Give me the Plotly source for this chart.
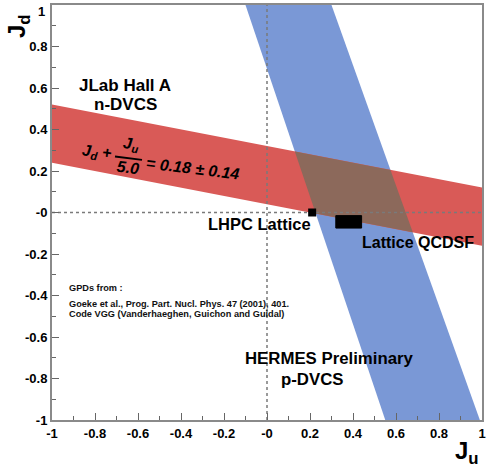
import numpy as np
import plotly.graph_objects as go

# Jefferson Lab Hall A n-DVCS constraint:  Jd + Ju/5.0 = 0.18 +- 0.14
jlab_center = 0.18
jlab_error = 0.14
jlab_divisor = 5.0

# HERMES preliminary p-DVCS band, edge positions in Ju at Jd = +1 and Jd = -1
hermes_jd = [1.0, -1.0]
hermes_left_ju = [-0.10, 0.55]
hermes_right_ju = [0.30, 0.99]

# Lattice results
lhpc_ju, lhpc_jd = 0.21, 0.0
qcdsf_ju = [0.32, 0.44]
qcdsf_jd = [-0.075, -0.015]

x_ticks = [-1, -0.8, -0.6, -0.4, -0.2, 0, 0.2, 0.4, 0.6, 0.8, 1]
x_tick_text = ["-1", "-0.8", "-0.6", "-0.4", "-0.2", "-0", "0.2", "0.4", "0.6", "0.8", "1"]
y_ticks = x_ticks
# the top label is drawn separately, nudged down inside the page
y_tick_text = ["-1", "-0.8", "-0.6", "-0.4", "-0.2", "-0", "0.2", "0.4", "0.6", "0.8", ""]
y_top_label = "1"

RED = "#d95a57"
BLUE = "#7a98d6"
BROWN = "#8c695b"
FONT = "Liberation Sans, Arial, sans-serif"

W, H = 489, 469
L, R, T, B = 52, 7, 5, 49


def px2x(px):
    return -1 + 2 * (px - L) / (W - L - R)


def py2y(py):
    return 1 - 2 * (py - T) / (H - T - B)


def jlab_line(ju, offset):
    return jlab_center + offset - np.asarray(ju) / jlab_divisor


def hermes_line(edge):
    # Ju = a + b * Jd for one band edge
    b = (edge[0] - edge[1]) / (hermes_jd[0] - hermes_jd[1])
    a = edge[0] - b * hermes_jd[0]
    return a, b


def intersect(offset, edge):
    a, b = hermes_line(edge)
    c = jlab_center + offset
    # Jd = c - Ju/k  and  Ju = a + b*Jd
    k = jlab_divisor
    jd = (c - a / k) / (1 + b / k)
    ju = a + b * jd
    return ju, jd


fig = go.Figure()

# HERMES band
bx = [hermes_left_ju[0], hermes_right_ju[0], hermes_right_ju[1], hermes_left_ju[1], hermes_left_ju[0]]
by = [hermes_jd[0], hermes_jd[0], hermes_jd[1], hermes_jd[1], hermes_jd[0]]
fig.add_trace(go.Scatter(x=bx, y=by, fill="toself", fillcolor=BLUE, mode="none",
                         hoverinfo="skip", showlegend=False))

# JLab band
ju_edges = np.array([-1.0, 1.0])
rx = list(ju_edges) + list(ju_edges[::-1]) + [ju_edges[0]]
ry = (list(jlab_line(ju_edges, jlab_error)) + list(jlab_line(ju_edges[::-1], -jlab_error))
      + [jlab_line(ju_edges[0], jlab_error)])
fig.add_trace(go.Scatter(x=rx, y=ry, fill="toself", fillcolor=RED, mode="none",
                         hoverinfo="skip", showlegend=False))

# overlap of the two bands
corners = [intersect(jlab_error, hermes_left_ju), intersect(jlab_error, hermes_right_ju),
           intersect(-jlab_error, hermes_right_ju), intersect(-jlab_error, hermes_left_ju)]
corners.append(corners[0])
fig.add_trace(go.Scatter(x=[c[0] for c in corners], y=[c[1] for c in corners],
                         fill="toself", fillcolor=BROWN, mode="none",
                         hoverinfo="skip", showlegend=False))

# dotted zero lines
fig.add_trace(go.Scatter(x=[0, 0], y=[-1, 1], mode="lines",
                         line=dict(color="#7a7a7a", width=1.5, dash="dot"),
                         hoverinfo="skip", showlegend=False))
fig.add_trace(go.Scatter(x=[-1, 1], y=[0, 0], mode="lines",
                         line=dict(color="#7a7a7a", width=1.5, dash="dot"),
                         hoverinfo="skip", showlegend=False))

# lattice points
fig.add_trace(go.Scatter(x=[lhpc_ju], y=[lhpc_jd], mode="markers",
                         marker=dict(symbol="square", size=8, color="black"),
                         hoverinfo="skip", showlegend=False))
fig.add_trace(go.Scatter(x=[qcdsf_ju[0], qcdsf_ju[1], qcdsf_ju[1], qcdsf_ju[0], qcdsf_ju[0]],
                         y=[qcdsf_jd[0], qcdsf_jd[0], qcdsf_jd[1], qcdsf_jd[1], qcdsf_jd[0]],
                         fill="toself", fillcolor="black", mode="lines",
                         line=dict(color="black", width=1),
                         hoverinfo="skip", showlegend=False))

annotations = []


def label(text, px, py, size, angle=0, italic=False, xanchor="center", color="black"):
    annotations.append(dict(
        x=px2x(px), y=py2y(py), xref="x", yref="y", text=text, showarrow=False,
        textangle=angle, xanchor=xanchor, yanchor="middle",
        font=dict(family=FONT, size=size, color=color, weight="bold",
                  style="italic" if italic else "normal")))


label("JLab Hall A", 125, 85, 17)
label("n-DVCS", 125, 104, 17)

# rotated formula on the JLab band
ang = 7
label("J<sub>d</sub> +", 97, 152, 16, ang, True)
label("J<sub>u</sub>", 131, 144, 16, ang, True)
label("5.0", 128, 167, 16, ang, True)
label("= 0.18 ± 0.14", 193, 168, 16, ang, True)

label("LHPC Lattice", 259, 224, 16.5)
label("Lattice QCDSF", 418, 242, 16)
label("HERMES Preliminary", 329, 358, 16.8)
label("p-DVCS", 312, 379, 16.8)

small = dict(family=FONT, size=9.2, color="#111", weight="bold")
for txt, py in [("GPDs from :", 288),
                ("Goeke et al., Prog. Part. Nucl. Phys. 47 (2001), 401.", 304),
                ("Code VGG (Vanderhaeghen, Guichon and Guidal)", 314)]:
    annotations.append(dict(x=px2x(67), y=py2y(py), xref="x", yref="y", text=txt,
                            showarrow=False, xanchor="left", yanchor="middle", font=small))

# top y tick label
annotations.append(dict(x=(47 - L) / (W - L - R), y=1 - (12 - T) / (H - T - B),
                        xref="paper", yref="paper", text=y_top_label,
                        xanchor="right", yanchor="middle", showarrow=False,
                        font=dict(family=FONT, size=13, color="black", weight="bold")))

# axis titles
annotations.append(dict(x=(18 - L) / (W - L - R), y=1 - (26 - T) / (H - T - B),
                        xref="paper", yref="paper", text="<b>J<sub>d</sub></b>",
                        xanchor="center", yanchor="middle",
                        showarrow=False, textangle=-90,
                        font=dict(family=FONT, size=24, color="black")))
annotations.append(dict(x=(467 - L) / (W - L - R), y=1 - (452 - T) / (H - T - B),
                        xref="paper", yref="paper", text="<b>J<sub>u</sub></b>",
                        xanchor="center", yanchor="middle",
                        showarrow=False, font=dict(family=FONT, size=24, color="black")))

# fraction bar
shapes = [dict(type="line", xref="x", yref="y",
               x0=px2x(115), y0=py2y(156.5), x1=px2x(142), y1=py2y(159.8),
               line=dict(color="black", width=1.8))]

axis_common = dict(range=[-1, 1], showgrid=False, zeroline=False,
                   ticks="inside", ticklen=7, tickwidth=1.2, tickcolor="#666",
                   showline=True, linecolor="#8a8a8a", linewidth=2, mirror=True,
                   tickfont=dict(family=FONT, size=13, color="black", weight="bold"),
                   minor=dict(ticks="inside", ticklen=4, dtick=0.1, tickcolor="#666",
                              tickwidth=1),
                   ticklabeloverflow="allow", automargin=False,
                   fixedrange=True)

fig.update_layout(
    width=W, height=H,
    margin=dict(l=L, r=R, t=T, b=B),
    plot_bgcolor="white", paper_bgcolor="white",
    font=dict(family=FONT, color="black"),
    xaxis=dict(tickvals=x_ticks, ticktext=x_tick_text, **axis_common),
    yaxis=dict(tickvals=y_ticks, ticktext=y_tick_text, **axis_common),
    annotations=annotations, shapes=shapes,
)

fig.write_html("out.html")
